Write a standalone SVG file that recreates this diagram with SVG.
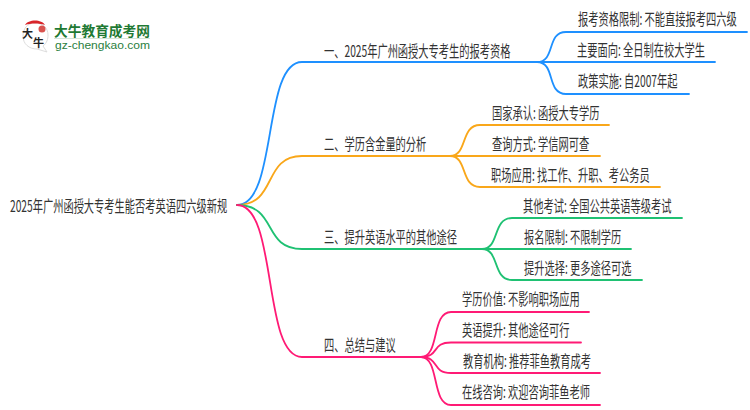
<svg xmlns="http://www.w3.org/2000/svg" width="750" height="410" viewBox="0 0 750 410">
<style>
text{font-family:"Noto Sans CJK SC","Liberation Sans",sans-serif;font-size:16px;fill:#333}
.c{fill:none;stroke-width:1.8;stroke-linecap:round}
.b{stroke:#1e90ff}.o{stroke:#f9a71a}.g{stroke:#1fc173}.p{stroke:#ff1a75}
</style>
<rect width="750" height="410" fill="#fff"/>
<g id="logo">
<path d="M35 23C27 23 23 29 23 36C23 44 29 49 37 49L47 52L43 46C47 43 48 39 48 35C48 28 43 23 35 23Z" fill="#fff" stroke="#ddd" stroke-width="1"/>
<path d="M25 25C28 19 42 19 45 25C39 23 31 23 25 25Z" fill="#d9252a"/>
<circle cx="42" cy="29" r="3.500" fill="#d9534f"/>
<text x="22" y="38" style="font-size:11px;fill:#222;font-weight:700">大</text>
<text x="33" y="47" style="font-size:11px;fill:#222;font-weight:700">牛</text>
<text transform="translate(54 36) scale(.98 1)" style="font-size:14px;font-weight:700;fill:#1f7a34">大牛教育成考网</text>
<path d="M54 38.500H150" stroke="#d5e5d8" stroke-width="1"/>
<text x="55" y="49" textLength="95" lengthAdjust="spacingAndGlyphs" style="font-size:10.500px;fill:#2a8040;font-family:'Liberation Sans',sans-serif">gz-chengkao.com</text>
</g>
<g id="connectors">
<path class="c b" d="M237 205C278 205 262 62 302 62H537"/>
<path class="c o" d="M237 205C278 205 262 156 302 156H450"/>
<path class="c g" d="M237 205C278 205 262 249 302 249H482"/>
<path class="c p" d="M237 205C278 205 262 357 302 357H421"/>
<path class="c b" d="M537 62C556 62 546 32 566 32H747"/>
<path class="c b" d="M537 62H715"/>
<path class="c b" d="M537 62C556 62 546 94 566 94H689"/>
<path class="c o" d="M450 156C468 156 460 125 480 125H609"/>
<path class="c o" d="M450 156H600"/>
<path class="c o" d="M450 156C468 156 460 187 480 187H660"/>
<path class="c g" d="M482 249C500 249 492 218 512 218H682"/>
<path class="c g" d="M482 249H631"/>
<path class="c g" d="M482 249C500 249 492 280 512 280H642"/>
<path class="c p" d="M421 357C440 357 431 312 451 312H589"/>
<path class="c p" d="M421 357C440 357 431 342.500 451 342.500H581"/>
<path class="c p" d="M421 357C440 357 431 373 451 373H600"/>
<path class="c p" d="M421 357C440 357 431 405 451 405H600"/>
</g>
<g id="root"><text transform="translate(10 212) scale(.64 1)">2025年广州函授大专考生能否考英语四六级新规</text></g>
<g id="n1"><text transform="translate(324 57) scale(.64 1)">一、2025年广州函授大专考生的报考资格</text></g>
<g id="n1-1"><text transform="translate(578 25) scale(.64 1)">报考资格限制: 不能直接报考四六级</text></g>
<g id="n1-2"><text transform="translate(577 56) scale(.64 1)">主要面向: 全日制在校大学生</text></g>
<g id="n1-3"><text transform="translate(578 87) scale(.64 1)">政策实施: 自2007年起</text></g>
<g id="n2"><text transform="translate(324 150) scale(.64 1)">二、学历含金量的分析</text></g>
<g id="n2-1"><text transform="translate(492 119) scale(.64 1)">国家承认: 函授大专学历</text></g>
<g id="n2-2"><text transform="translate(492 150) scale(.64 1)">查询方式: 学信网可查</text></g>
<g id="n2-3"><text transform="translate(491 181) scale(.64 1)">职场应用: 找工作、升职、考公务员</text></g>
<g id="n3"><text transform="translate(324 243) scale(.64 1)">三、提升英语水平的其他途径</text></g>
<g id="n3-1"><text transform="translate(523 212) scale(.64 1)">其他考试: 全国公共英语等级考试</text></g>
<g id="n3-2"><text transform="translate(524 243) scale(.64 1)">报名限制: 不限制学历</text></g>
<g id="n3-3"><text transform="translate(524 274) scale(.64 1)">提升选择: 更多途径可选</text></g>
<g id="n4"><text transform="translate(324 351) scale(.64 1)">四、总结与建议</text></g>
<g id="n4-1"><text transform="translate(462 305) scale(.64 1)">学历价值: 不影响职场应用</text></g>
<g id="n4-2"><text transform="translate(462 336) scale(.64 1)">英语提升: 其他途径可行</text></g>
<g id="n4-3"><text transform="translate(463 367) scale(.64 1)">教育机构: 推荐菲鱼教育成考</text></g>
<g id="n4-4"><text transform="translate(462 398) scale(.64 1)">在线咨询: 欢迎咨询菲鱼老师</text></g>
</svg>
